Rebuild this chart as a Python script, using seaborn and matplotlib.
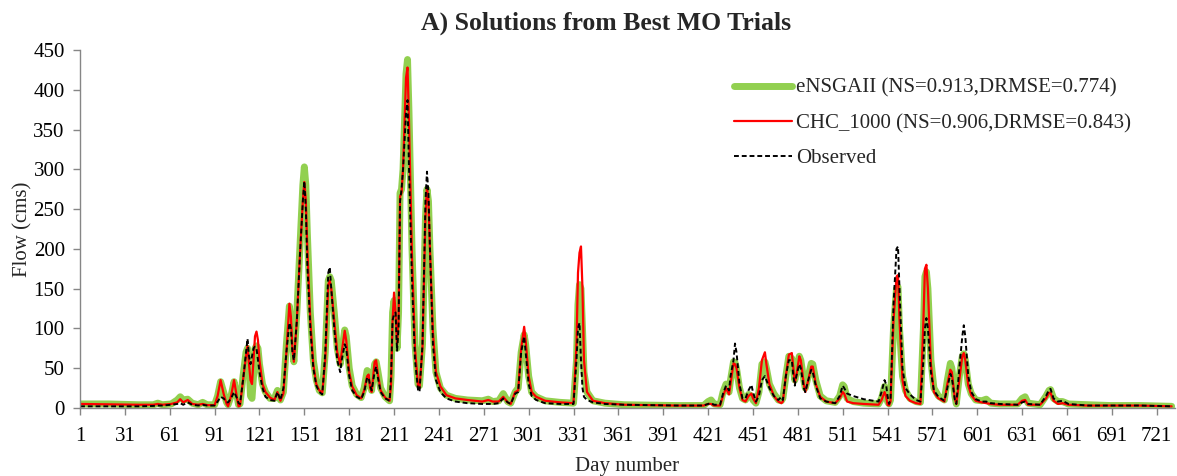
import numpy as np
import pandas as pd
import matplotlib
matplotlib.use("Agg")
import matplotlib.pyplot as plt
import seaborn as sns

# Daily flow (cms) at key days of the simulation period
day = [1, 20, 40, 50, 53, 56, 62, 66, 68, 70, 73, 76, 80, 83, 86, 91, 93, 95, 97, 99,
       100, 102, 104, 106, 107, 108, 110, 112, 113, 114, 115, 116, 117, 118, 119, 120,
       121, 123, 125, 128, 131, 133, 135, 137, 139, 141, 142, 143, 144, 146, 148, 150,
       151, 152, 153, 155, 157, 159, 161, 163, 165, 167, 168, 169, 171, 173, 175, 176,
       178, 179, 181, 183, 186, 189, 191, 193, 194, 195, 196, 198, 199, 200, 202, 205,
       208, 209, 210, 211, 212, 213, 214, 215, 216, 217, 219, 220, 221, 223, 225, 227,
       228, 230, 232, 233, 234, 235, 237, 239, 242, 246, 252, 260, 270, 274, 277, 281,
       284, 287, 289, 292, 294, 296, 298, 299, 301, 303, 306, 312, 322, 331, 333, 334,
       335, 336, 337, 338, 340, 344, 352, 365, 400, 418, 421, 423, 425, 429, 431, 433,
       435, 436, 438, 439, 440, 442, 444, 446, 448, 450, 451, 453, 455, 457, 459, 460,
       462, 465, 468, 470, 471, 473, 475, 477, 478, 479, 480, 482, 483, 485, 486, 488,
       490, 491, 493, 496, 500, 506, 509, 511, 512, 514, 518, 525, 535, 537, 539, 540,
       541, 542, 543, 545, 547, 548, 549, 551, 553, 556, 560, 563, 565, 566, 567, 568,
       570, 572, 575, 579, 581, 583, 584, 586, 587, 589, 591, 592, 593, 595, 597, 600,
       604, 607, 610, 616, 628, 631, 633, 635, 643, 647, 649, 650, 652, 655, 658, 662,
       675, 690, 710, 731]

ensgaii = [5, 5, 4, 4, 6, 4, 5, 10, 14, 10, 11, 6, 4, 7, 4, 4, 15, 33, 20, 7,
           4, 15, 33, 15, 4, 5, 40, 70, 75, 55, 15, 12, 40, 75, 78, 75,
           55, 30, 20, 12, 12, 22, 10, 20, 80, 128, 110, 80, 58, 120, 200, 280,
           303, 280, 220, 120, 60, 35, 22, 19, 70, 160, 165, 160, 120, 75, 55, 70,
           98, 90, 50, 28, 17, 13, 25, 47, 45, 30, 22, 55, 58, 48, 25, 14,
           9, 40, 120, 135, 110, 75, 120, 270, 275, 300, 420, 438, 370, 200, 80, 30,
           28, 80, 240, 275, 260, 200, 100, 45, 25, 16, 12, 10, 9, 11, 8, 9,
           18, 8, 6, 20, 25, 70, 92, 80, 40, 20, 14, 9, 7, 6, 60, 130,
           155, 150, 100, 45, 20, 9, 6, 4, 3, 3, 8, 10, 5, 4, 20, 30,
           20, 35, 58, 57, 50, 25, 12, 10, 17, 15, 10, 6, 20, 55, 58, 50,
           30, 18, 10, 9, 12, 40, 65, 62, 50, 35, 45, 65, 60, 35, 25, 40,
           56, 55, 35, 15, 9, 7, 15, 29, 27, 12, 8, 6, 5, 12, 27, 22,
           8, 5, 10, 100, 150, 152, 100, 40, 22, 12, 8, 7, 100, 165, 171, 150,
           60, 25, 15, 10, 35, 56, 50, 15, 5, 40, 65, 68, 60, 30, 18, 10,
           9, 11, 6, 5, 5, 12, 14, 6, 4, 15, 22, 23, 12, 8, 8, 5,
           4, 3, 3, 2]

chc_1000 = [5, 4.5, 4, 4, 5, 4, 5, 7, 11, 7, 10, 5, 4, 5, 3.5, 3.5, 15, 35, 18, 5,
            2, 15, 35, 12, 2, 3, 35, 65, 78, 55, 35, 30, 60, 90, 96, 85,
            60, 30, 20, 13, 10, 20, 9, 18, 70, 131, 115, 75, 58, 110, 190, 260,
            284, 260, 200, 110, 55, 30, 22, 19, 60, 155, 160, 150, 110, 70, 55, 70,
            97, 85, 45, 27, 16, 12, 22, 40, 42, 25, 20, 58, 60, 45, 22, 13,
            9, 30, 110, 145, 120, 80, 110, 266, 270, 300, 415, 428, 360, 190, 75, 28,
            25, 75, 240, 278, 260, 200, 95, 45, 27, 16, 12, 10, 8, 10, 8, 8,
            14, 7, 5, 20, 22, 75, 102, 85, 40, 20, 14, 9, 7, 6, 80, 170,
            195, 203, 150, 60, 20, 9, 6, 4, 3, 3, 5, 5, 3, 3, 15, 25,
            17, 30, 56, 55, 50, 25, 10, 8, 15, 18, 12, 6, 25, 60, 70, 55,
            30, 15, 8, 6, 8, 40, 67, 69, 50, 32, 40, 65, 60, 30, 20, 35,
            52, 52, 30, 14, 8, 6, 12, 20, 18, 8, 6, 5, 4, 10, 20, 15,
            4, 3, 8, 110, 165, 167, 110, 35, 15, 9, 6, 5, 110, 175, 180, 150,
            55, 20, 12, 8, 30, 48, 45, 12, 5, 35, 65, 69, 60, 28, 16, 9,
            7, 6, 5, 4, 4, 9, 10, 4, 4, 12, 19, 19, 9, 5, 6, 4,
            3, 3, 3, 2]

observed = [2, 2, 2, 2.5, 3, 3, 4, 5, 6, 4, 7, 4, 3, 4, 3, 3, 8, 14, 12, 7,
            7, 12, 20, 12, 6, 5, 35, 70, 87, 65, 55, 65, 75, 77, 75, 60,
            45, 25, 14, 10, 9, 20, 10, 25, 70, 107, 100, 70, 60, 110, 190, 260,
            285, 250, 180, 100, 50, 28, 20, 17, 70, 170, 177, 150, 100, 60, 45, 60,
            80, 75, 40, 22, 14, 11, 20, 38, 38, 28, 22, 45, 52, 40, 20, 12,
            9, 40, 110, 118, 120, 72, 100, 260, 275, 300, 370, 387, 300, 160, 60, 23,
            20, 80, 260, 297, 270, 200, 80, 35, 20, 12, 8, 6, 5, 5, 5, 6,
            12, 7, 5, 18, 20, 70, 90, 70, 30, 15, 10, 6, 5, 5, 60, 100,
            107, 60, 25, 14, 10, 7, 5, 4, 3, 3, 5, 6, 4, 4, 18, 28,
            22, 40, 60, 81, 70, 30, 12, 12, 22, 29, 20, 8, 15, 35, 40, 35,
            25, 15, 10, 14, 10, 40, 60, 60, 40, 28, 40, 55, 50, 25, 20, 35,
            48, 45, 28, 12, 8, 6, 15, 28, 25, 18, 15, 11, 8, 20, 35, 30,
            15, 5, 10, 130, 200, 203, 150, 50, 25, 17, 10, 8, 60, 100, 113, 100,
            45, 22, 14, 9, 25, 43, 38, 10, 5, 50, 90, 104, 90, 40, 20, 11,
            8, 8, 6, 5, 4, 7, 8, 5, 4, 15, 23, 24, 12, 8, 9, 5,
            3, 3, 3, 2]

series_labels = ["eNSGAII (NS=0.913,DRMSE=0.774)",
                 "CHC_1000 (NS=0.906,DRMSE=0.843)",
                 "Observed"]
x_ticks = list(range(1, 722, 30))
y_ticks = list(range(0, 451, 50))

sns.set_style("ticks")
plt.rcParams["font.family"] = ["Liberation Serif", "DejaVu Serif"]
plt.rcParams["font.size"] = 15

fig = plt.figure(figsize=(11.77, 4.76), dpi=100)
ax = fig.add_axes([0.068, 0.143, 0.930, 0.752])

df = pd.DataFrame({"day": day, "ens": ensgaii, "chc": chc_1000, "obs": observed})

sns.lineplot(data=df, x="day", y="ens", ax=ax, color="#92D050", linewidth=5.0,
             label=series_labels[0], solid_capstyle="round", solid_joinstyle="round")
sns.lineplot(data=df, x="day", y="chc", ax=ax, color="#FF0000", linewidth=1.6,
             label=series_labels[1])
sns.lineplot(data=df, x="day", y="obs", ax=ax, color="black", linewidth=1.4,
             linestyle=(0, (2.5, 1.5)), label=series_labels[2])

ax.set_xlim(1, 733)
ax.set_ylim(0, 450)
ax.set_xticks(x_ticks)
ax.set_yticks(y_ticks)
ax.tick_params(axis="both", labelsize=15, color="#868686", length=5, width=1,
               labelcolor="black")
ax.tick_params(axis="x", pad=9)
ax.tick_params(axis="y", pad=6)

for side in ("top", "right"):
    ax.spines[side].set_visible(False)
for side in ("left", "bottom"):
    ax.spines[side].set_color("#868686")
    ax.spines[side].set_linewidth(1)

ax.set_xlabel("Day number", fontsize=15, labelpad=8)
ax.set_ylabel("Flow (cms)", fontsize=15, labelpad=1)
ax.set_title("A) Solutions from Best MO Trials", fontsize=18.5, fontweight="bold",
             pad=15, x=0.481)

leg = ax.legend(loc="upper left", bbox_to_anchor=(0.58, 0.973), frameon=False,
                fontsize=15, handlelength=2.8, handletextpad=0.2, labelspacing=0.75)

fig.savefig("out.png", dpi=100)
